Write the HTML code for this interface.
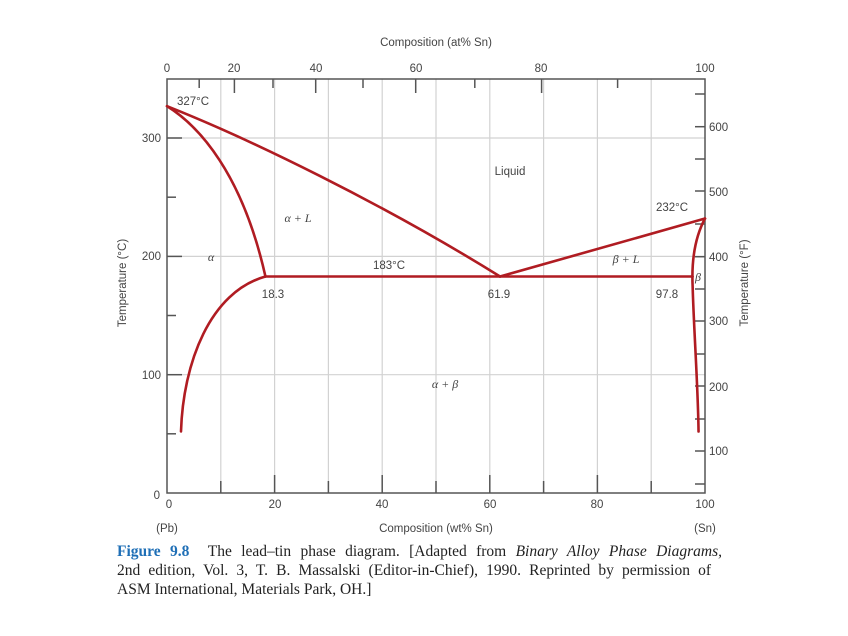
<!DOCTYPE html>
<html><head><meta charset="utf-8"><style>
body{margin:0;background:#fff;width:848px;height:636px;overflow:hidden}
svg{position:absolute;left:0;top:0}
.t{font-family:"Liberation Sans",sans-serif;font-size:11.5px;fill:#444}
.i{font-family:"Liberation Serif",serif;font-style:italic;font-size:12px;fill:#444}
.cap{position:absolute;left:117px;top:542px;font-family:"Liberation Serif",serif;font-size:15.5px;line-height:19px;color:#222}
.cap span{display:block;white-space:nowrap;text-align:justify;text-align-last:justify}
.cap b{color:#1f6fb6;font-weight:bold}
</style></head><body>
<svg width="848" height="636" viewBox="0 0 848 636">
<g stroke="#d2d2d2" stroke-width="1.2">
<line x1="220.8" y1="79" x2="220.8" y2="493"/><line x1="274.6" y1="79" x2="274.6" y2="493"/><line x1="328.4" y1="79" x2="328.4" y2="493"/><line x1="382.2" y1="79" x2="382.2" y2="493"/><line x1="436" y1="79" x2="436" y2="493"/><line x1="489.8" y1="79" x2="489.8" y2="493"/><line x1="543.6" y1="79" x2="543.6" y2="493"/><line x1="597.4" y1="79" x2="597.4" y2="493"/><line x1="651.2" y1="79" x2="651.2" y2="493"/>
<line x1="167" y1="138" x2="705" y2="138"/><line x1="167" y1="256.4" x2="705" y2="256.4"/><line x1="167" y1="374.7" x2="705" y2="374.7"/>
</g>
<g stroke="#555" stroke-width="1.5" fill="none">
<rect x="167" y="79" width="538" height="414"/>
<line x1="220.8" y1="493" x2="220.8" y2="481"/><line x1="274.6" y1="493" x2="274.6" y2="475"/><line x1="328.4" y1="493" x2="328.4" y2="481"/><line x1="382.2" y1="493" x2="382.2" y2="475"/><line x1="436" y1="493" x2="436" y2="481"/><line x1="489.8" y1="493" x2="489.8" y2="475"/><line x1="543.6" y1="493" x2="543.6" y2="481"/><line x1="597.4" y1="493" x2="597.4" y2="475"/><line x1="651.2" y1="493" x2="651.2" y2="481"/>
<line x1="199.2" y1="79" x2="199.2" y2="88"/><line x1="234.4" y1="79" x2="234.4" y2="93"/><line x1="273" y1="79" x2="273" y2="88"/><line x1="315.7" y1="79" x2="315.7" y2="93"/><line x1="363" y1="79" x2="363" y2="88"/><line x1="415.7" y1="79" x2="415.7" y2="93"/><line x1="474.8" y1="79" x2="474.8" y2="88"/><line x1="541.6" y1="79" x2="541.6" y2="93"/><line x1="617.6" y1="79" x2="617.6" y2="88"/>
<line x1="167" y1="138" x2="182" y2="138"/><line x1="167" y1="197.2" x2="176" y2="197.2"/><line x1="167" y1="256.4" x2="182" y2="256.4"/><line x1="167" y1="315.5" x2="176" y2="315.5"/><line x1="167" y1="374.7" x2="182" y2="374.7"/><line x1="167" y1="433.8" x2="176" y2="433.8"/>
<line x1="705" y1="94" x2="695" y2="94"/><line x1="705" y1="126.7" x2="695" y2="126.7"/><line x1="705" y1="159" x2="695" y2="159"/><line x1="705" y1="191" x2="695" y2="191"/><line x1="705" y1="224" x2="695" y2="224"/><line x1="705" y1="256.7" x2="695" y2="256.7"/><line x1="705" y1="289" x2="695" y2="289"/><line x1="705" y1="321" x2="695" y2="321"/><line x1="705" y1="354" x2="695" y2="354"/><line x1="705" y1="386" x2="695" y2="386"/><line x1="705" y1="419" x2="695" y2="419"/><line x1="705" y1="451" x2="695" y2="451"/><line x1="705" y1="484" x2="695" y2="484"/>
</g>
<g transform="matrix(5.38 0 0 -1.183 167 493)" fill="none" stroke="#b01c22" stroke-width="2.6" stroke-linejoin="round" stroke-linecap="round">
<path vector-effect="non-scaling-stroke" d="M0,327 C15,300 40,245 61.9,183"/>
<path vector-effect="non-scaling-stroke" d="M0,327 C6,310 14,270 18.3,183"/>
<path vector-effect="non-scaling-stroke" d="M18.3,183 C8,170 3,110 2.6,52"/>
<path vector-effect="non-scaling-stroke" d="M18.3,183 L97.7,183"/>
<path vector-effect="non-scaling-stroke" d="M61.9,183 L100,232"/>
<path vector-effect="non-scaling-stroke" d="M100,232 C98,215 97.5,195 97.7,175 C97.9,140 98.7,90 98.8,52"/>
</g>
<g class="t">
<text x="436" y="46" text-anchor="middle">Composition (at% Sn)</text>
<text x="167" y="72" text-anchor="middle">0</text><text x="234" y="72" text-anchor="middle">20</text><text x="316" y="72" text-anchor="middle">40</text><text x="416" y="72" text-anchor="middle">60</text><text x="541" y="72" text-anchor="middle">80</text><text x="705" y="72" text-anchor="middle">100</text>
<text x="169" y="508" text-anchor="middle">0</text><text x="275" y="508" text-anchor="middle">20</text><text x="382" y="508" text-anchor="middle">40</text><text x="490" y="508" text-anchor="middle">60</text><text x="597" y="508" text-anchor="middle">80</text><text x="705" y="508" text-anchor="middle">100</text>
<text x="436" y="532" text-anchor="middle">Composition (wt% Sn)</text>
<text x="167" y="532" text-anchor="middle">(Pb)</text><text x="705" y="532" text-anchor="middle">(Sn)</text>
<text x="161" y="142" text-anchor="end">300</text><text x="161" y="260" text-anchor="end">200</text><text x="161" y="379" text-anchor="end">100</text><text x="160" y="499" text-anchor="end">0</text>
<text x="709" y="131">600</text><text x="709" y="196">500</text><text x="709" y="261">400</text><text x="709" y="325">300</text><text x="709" y="391">200</text><text x="709" y="455">100</text>
<text transform="translate(126,283) rotate(-90)" text-anchor="middle">Temperature (°C)</text>
<text transform="translate(748,283) rotate(-90)" text-anchor="middle">Temperature (°F)</text>
<text x="510" y="175" text-anchor="middle">Liquid</text>
<text x="193" y="105" text-anchor="middle">327°C</text>
<text x="672" y="211" text-anchor="middle">232°C</text>
<text x="389" y="269" text-anchor="middle">183°C</text>
<text x="273" y="298" text-anchor="middle">18.3</text><text x="499" y="298" text-anchor="middle">61.9</text><text x="667" y="298" text-anchor="middle">97.8</text>
</g>
<g class="i">
<text x="298" y="222" text-anchor="middle">α + L</text>
<text x="211" y="261" text-anchor="middle">α</text>
<text x="626" y="263" text-anchor="middle">β + L</text>
<text x="698" y="281" text-anchor="middle">β</text>
<text x="445" y="388" text-anchor="middle">α + β</text>
</g>
</svg>
<div class="cap">
<span style="width:605px"><b>Figure 9.8</b>&nbsp; The lead–tin phase diagram. [Adapted from <i>Binary Alloy Phase Diagrams,</i></span>
<span style="width:594px">2nd edition, Vol. 3, T. B. Massalski (Editor-in-Chief), 1990. Reprinted by permission of</span>
<span style="text-align-last:left">ASM International, Materials Park, OH.]</span>
</div>
</body></html>
